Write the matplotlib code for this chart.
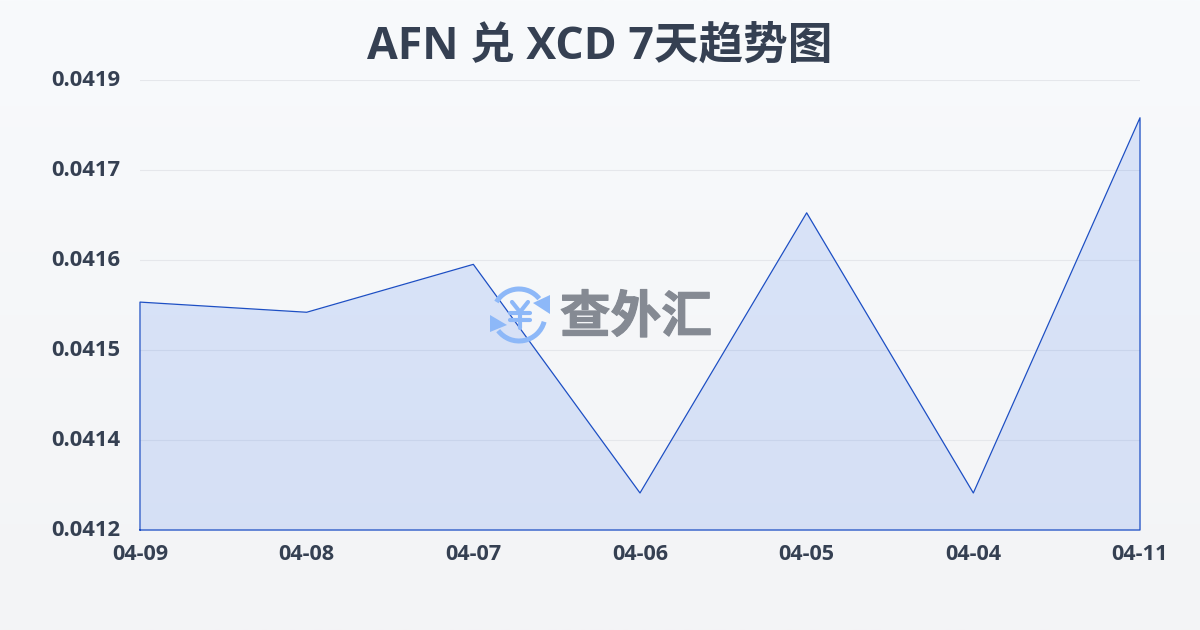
import numpy as np
import matplotlib
matplotlib.use("Agg")
import matplotlib.pyplot as plt
import matplotlib.patheffects as pe
from matplotlib.patches import Arc, Polygon
from matplotlib.transforms import ScaledTranslation

plt.rcParams['font.family'] = ['Open Sans', 'Noto Sans CJK SC', 'DejaVu Sans']

dates = ['04-09', '04-08', '04-07', '04-06', '04-05', '04-04', '04-11']
rates = [0.041554, 0.041540, 0.041606, 0.041291, 0.041677, 0.041291, 0.041808]
yticks = [0.04124, 0.041364, 0.041488, 0.041612, 0.041736, 0.04186]
title = 'AFN 兑 XCD 7天趋势图'
watermark = '查外汇'

W, H = 1200, 630
dark = '#354052'
blue = '#1d4fc4'

fig = plt.figure(figsize=(W/100, H/100), dpi=100)

# page background, light vertical gradient
bg = fig.add_axes([0, 0, 1, 1], zorder=0)
grad = np.linspace(0, 1, 256).reshape(-1, 1, 1)
top = np.array([0xf8, 0xfa, 0xfc]) / 255
bottom = np.array([0xf3, 0xf4, 0xf6]) / 255
bg.imshow(top + (bottom - top) * grad, aspect='auto', extent=[0, 1, 0, 1])
bg.axis('off')

ax = fig.add_axes([140/W, 1 - 530/H, 1000/W, 450/H], zorder=1)
ax.patch.set_alpha(0)
x = np.arange(len(dates))
ax.fill_between(x, rates, yticks[0], color='#2563eb', alpha=0.14, lw=0, zorder=2)
# outline goes round the whole area, as in the original
ax.plot(np.r_[x[0], x, x[-1], x[0]], np.r_[yticks[0], rates, yticks[0], yticks[0]],
        color=blue, lw=0.9, zorder=3, clip_on=False)

ax.set_xlim(x[0], x[-1])
ax.set_ylim(yticks[0], yticks[-1])
ax.set_xticks(x, dates)
ax.set_yticks(yticks, [f'{v:.4f}' for v in yticks])
ax.grid(axis='y', color='#e5e7eb', lw=0.8, zorder=1)
ax.set_axisbelow(True)
for s in ax.spines.values():
    s.set_visible(False)
ax.tick_params(axis='both', length=0)
ax.tick_params(axis='x', pad=10, labelsize=15.6, labelcolor=dark)
ax.tick_params(axis='y', pad=14, labelsize=15.8, labelcolor=dark)
for lab in ax.get_xticklabels() + ax.get_yticklabels():
    lab.set_fontweight('bold')
up = ScaledTranslation(0, 2/100, fig.dpi_scale_trans)
for lab in ax.get_yticklabels():
    lab.set_transform(lab.get_transform() + up)

fig.text(0.5, 1 - 47/H, title, ha='center', va='center', fontsize=32.1,
         fontweight='bold', color=dark)

# watermark, drawn in pixel space on top of everything
wm = fig.add_axes([0, 0, 1, 1], zorder=3)
wm.set_xlim(0, W)
wm.set_ylim(H, 0)
wm.axis('off')
logo = '#8db8f8'
cx, cy, r = 519, 315, 26
# y axis is flipped here, so these angles run clockwise on screen
wm.add_patch(Arc((cx, cy), 2*r, 2*r, theta1=210, theta2=321, color=logo, lw=3.6))
wm.add_patch(Arc((cx, cy), 2*r, 2*r, theta1=15, theta2=143, color=logo, lw=3.6))
wm.add_patch(Polygon([(550, 295), (550, 314), (533, 303)], color=logo, lw=0))
wm.add_patch(Polygon([(490, 315), (507, 325), (490, 332)], color=logo, lw=0))
# yen sign of the logo
wm.plot([512, 520, 528], [302, 312, 302], color=logo, lw=3, solid_capstyle='round')
wm.plot([520, 520], [312, 328], color=logo, lw=3, solid_capstyle='round')
wm.plot([510, 530], [313, 313], color=logo, lw=3, solid_capstyle='round')
wm.plot([510, 530], [320, 320], color=logo, lw=3, solid_capstyle='round')
wm.text(636, 318, watermark, ha='center', va='center', fontsize=36.5,
        fontweight='bold', color='#858a93', family=['Noto Sans CJK SC', 'DejaVu Sans'],
        path_effects=[pe.withStroke(linewidth=0.8, foreground='#858a93')])

fig.savefig('out.png', dpi=100)
